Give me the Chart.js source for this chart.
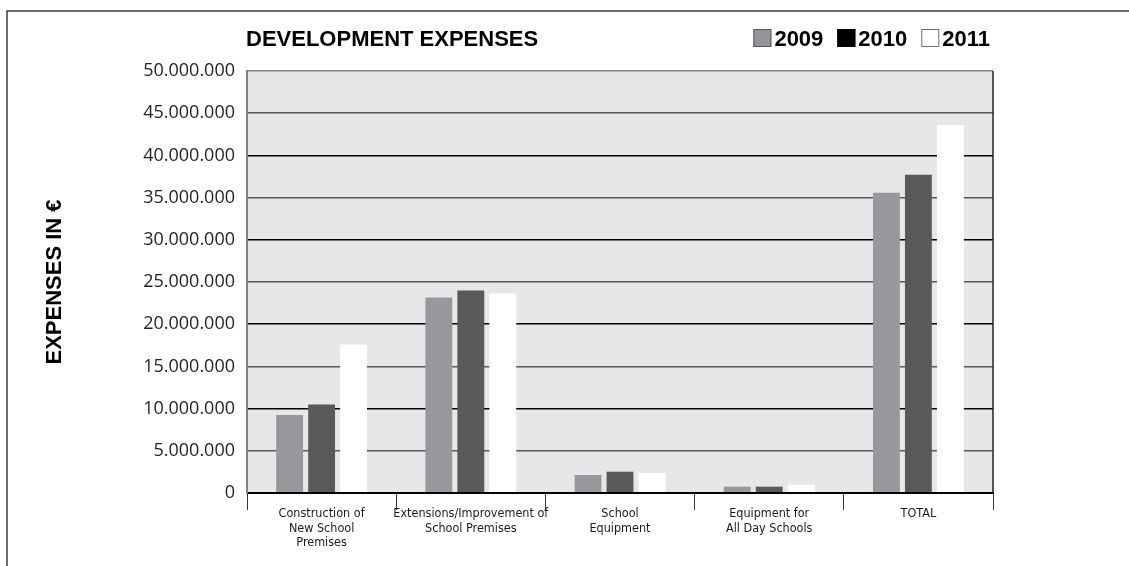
<!DOCTYPE html>
<html>
<head>
<meta charset="utf-8">
<title>Development Expenses</title>
<script src="https://cdn.jsdelivr.net/npm/chart.js@4.4.1/dist/chart.umd.min.js"></script>
<style>
    html, body { margin: 0; padding: 0; background: #ffffff; }
    #wrap { position: relative; width: 1129px; height: 566px; }
</style>
</head>
<body>
<div id="wrap"><canvas id="expChart" width="1129" height="566"></canvas></div>
<script>
// Categories (multi-line labels) and yearly values in euros
var categories = [
    ["Construction of", "New School", "Premises"],
    ["Extensions/Improvement of", "School Premises"],
    ["School", "Equipment"],
    ["Equipment for", "All Day Schools"],
    ["TOTAL"]
];
var years = ["2009", "2010", "2011"];
var values2009 = [9250000, 23170000, 2130000, 750000, 35580000];
var values2010 = [10500000, 24000000, 2520000, 750000, 37700000];
var values2011 = [17600000, 23640000, 2360000, 980000, 43600000];
var yMax = 50000000;
var yStep = 5000000;

var chartTitle = "DEVELOPMENT EXPENSES";
var axisTitle = "EXPENSES IN €";

// Bar fills and the swatches shown in the header legend
var barColors = ["#97989b", "#58595b", "#ffffff"];
var swatchFill = ["#939598", "#000000", "#ffffff"];
var swatchEdge = ["#58595b", "#000000", "#6d6e71"];

var narrow = '"Liberation Sans Narrow", "Arial Narrow", "DejaVu Sans Condensed", sans-serif';
var sans = '"Liberation Sans", Arial, sans-serif';

function formatEuro(v) {
    return String(v).replace(/\B(?=(\d{3})+(?!\d))/g, ".");
}

// Frame, plot background, header title and legend
var decorPlugin = {
    id: 'decor',
    beforeDraw: function (chart) {
        var ctx = chart.ctx;
        var a = chart.chartArea;
        ctx.save();
        ctx.fillStyle = "#e6e7e8";
        ctx.fillRect(a.left, a.top, a.right - a.left, a.bottom - a.top);

        // outer frame (top and left edges)
        ctx.strokeStyle = "#3c3c3c";
        ctx.lineWidth = 1.5;
        ctx.beginPath();
        ctx.moveTo(chart.width, 11);
        ctx.lineTo(7, 11);
        ctx.lineTo(7, chart.height);
        ctx.stroke();
        ctx.restore();
    },
    afterDraw: function (chart) {
        var ctx = chart.ctx;
        var a = chart.chartArea;
        ctx.save();

        // right edge of the plot
        ctx.strokeStyle = "#231f20";
        ctx.lineWidth = 1.5;
        ctx.beginPath();
        ctx.moveTo(a.right, a.top);
        ctx.lineTo(a.right, a.bottom);
        ctx.stroke();

        // title
        ctx.fillStyle = "#000000";
        ctx.font = "bold 22px " + sans;
        ctx.textBaseline = "alphabetic";
        ctx.textAlign = "left";
        ctx.fillText(chartTitle, a.left - 1, 46);

        // legend, right aligned to the plot
        var box = 18, gap = 3, itemGap = 14;
        ctx.font = "bold 22px " + sans;
        var x = a.right - 3;
        for (var i = years.length - 1; i >= 0; i--) {
            var w = ctx.measureText(years[i]).width;
            x -= w;
            ctx.fillStyle = "#000000";
            ctx.fillText(years[i], x, 46);
            x -= gap + box;
            ctx.fillStyle = swatchFill[i];
            ctx.fillRect(x, 29, box, box);
            ctx.strokeStyle = swatchEdge[i];
            ctx.lineWidth = 1;
            ctx.strokeRect(x + 0.5, 29.5, box - 1, box - 1);
            x -= itemGap;
        }
        ctx.restore();
    }
};

var ctx = document.getElementById('expChart').getContext('2d');
var chart = new Chart(ctx, {
    type: 'bar',
    data: {
        labels: categories,
        datasets: [
            { label: years[0], data: values2009, backgroundColor: barColors[0] },
            { label: years[1], data: values2010, backgroundColor: barColors[1] },
            { label: years[2], data: values2011, backgroundColor: barColors[2] }
        ]
    },
    options: {
        responsive: false,
        animation: false,
        layout: { padding: { top: 71, right: 136, bottom: 0, left: 0 } },
        datasets: {
            bar: { categoryPercentage: 0.643, barPercentage: 0.84, borderWidth: 0 }
        },
        plugins: {
            legend: { display: false },
            title: { display: false },
            tooltip: { enabled: false }
        },
        scales: {
            x: {
                afterFit: function (scale) { scale.height = 73; },
                grid: {
                    display: true,
                    drawOnChartArea: false,
                    offset: true,
                    tickLength: 17,
                    color: "#333333",
                    lineWidth: 1
                },
                border: { display: true, color: "#000000", width: 2 },
                ticks: {
                    color: "#1a1a1a",
                    padding: -3,
                    maxRotation: 0,
                    autoSkip: false,
                    font: { family: narrow, size: 12.5, lineHeight: 1.15 }
                }
            },
            y: {
                min: 0,
                max: yMax,
                afterFit: function (scale) { scale.width = 247; },
                ticks: {
                    stepSize: yStep,
                    padding: 12,
                    color: "#231f20",
                    font: { family: '"Open Sans", sans-serif', size: 18 },
                    callback: function (v) { return formatEuro(v); }
                },
                grid: {
                    drawTicks: false,
                    color: function (c) {
                        var v = c.tick ? c.tick.value : 0;
                        if (v === yMax) return "#808285";
                        return v % 10000000 === 0 ? "#000000" : "#58595b";
                    },
                    lineWidth: function (c) {
                        var v = c.tick ? c.tick.value : 0;
                        return v === 0 ? 2 : 1.5;
                    }
                },
                border: { display: true, color: "#808285", width: 2 },
                title: {
                    display: true,
                    text: axisTitle,
                    color: "#000000",
                    font: { family: sans, size: 22, weight: 'bold' },
                    padding: { top: 42, bottom: 0 }
                }
            }
        }
    },
    plugins: [decorPlugin]
});
</script>
</body>
</html>
